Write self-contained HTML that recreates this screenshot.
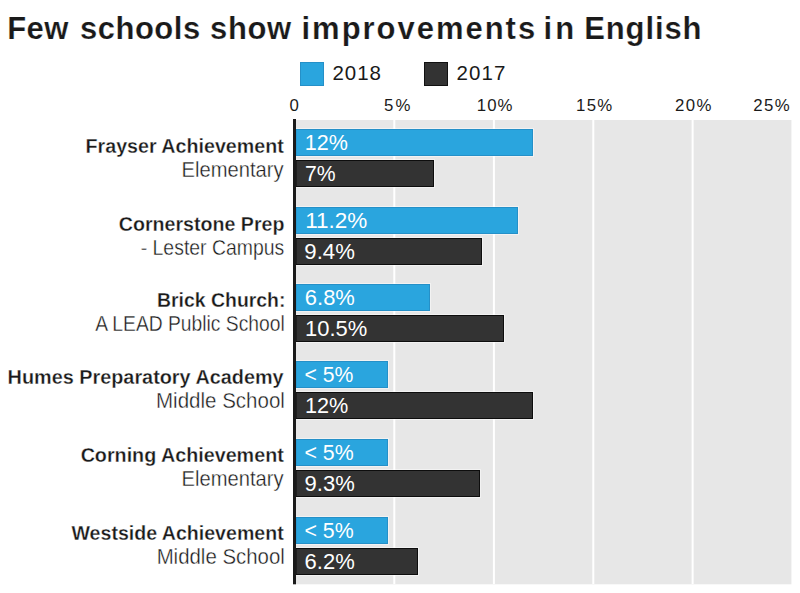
<!DOCTYPE html>
<html><head><meta charset="utf-8">
<style>
html,body{margin:0;padding:0;background:#fff;width:800px;height:593px;overflow:hidden}
svg{display:block}
text{font-family:"Liberation Sans",sans-serif;white-space:pre}
</style></head>
<body>
<svg width="800" height="593" viewBox="0 0 800 593">
<rect x="0" y="0" width="800" height="593" fill="#fff"/>
<!-- plot background -->
<rect x="295" y="120" width="496.4" height="464.3" fill="#e7e7e7"/>
<!-- gridlines -->
<rect x="393.3" y="120" width="2" height="464" fill="#fff"/>
<rect x="492.9" y="120" width="2" height="464" fill="#fff"/>
<rect x="592.3" y="120" width="2" height="464" fill="#fff"/>
<rect x="691.6" y="120" width="2" height="464" fill="#fff"/>
<!-- legend -->
<rect x="300.5" y="62.5" width="23" height="23" fill="#2aa5de" stroke="#2590c8" stroke-width="1"/>
<rect x="424.5" y="62.5" width="23" height="23" fill="#333" stroke="#111" stroke-width="1"/>
<rect x="295.5" y="128.5" width="238.0" height="28" fill="none" stroke="#fff" stroke-opacity="0.45" stroke-width="1"/>
<rect x="296" y="129.5" width="236.5" height="26" fill="#2aa5de" stroke="#2590c8" stroke-width="1"/>
<rect x="295.5" y="159.5" width="139.0" height="28" fill="none" stroke="#fff" stroke-opacity="0.45" stroke-width="1"/>
<rect x="296" y="160.5" width="137.5" height="26" fill="#333" stroke="#0d0d0d" stroke-width="1"/>
<rect x="295.5" y="206.5" width="223.0" height="28" fill="none" stroke="#fff" stroke-opacity="0.45" stroke-width="1"/>
<rect x="296" y="207.5" width="221.5" height="26" fill="#2aa5de" stroke="#2590c8" stroke-width="1"/>
<rect x="295.5" y="237.5" width="187.0" height="28" fill="none" stroke="#fff" stroke-opacity="0.45" stroke-width="1"/>
<rect x="296" y="238.5" width="185.5" height="26" fill="#333" stroke="#0d0d0d" stroke-width="1"/>
<rect x="295.5" y="283.5" width="135.0" height="28" fill="none" stroke="#fff" stroke-opacity="0.45" stroke-width="1"/>
<rect x="296" y="284.5" width="133.5" height="26" fill="#2aa5de" stroke="#2590c8" stroke-width="1"/>
<rect x="295.5" y="314.5" width="209.0" height="28" fill="none" stroke="#fff" stroke-opacity="0.45" stroke-width="1"/>
<rect x="296" y="315.5" width="207.5" height="26" fill="#333" stroke="#0d0d0d" stroke-width="1"/>
<rect x="295.5" y="360.5" width="93.0" height="28" fill="none" stroke="#fff" stroke-opacity="0.45" stroke-width="1"/>
<rect x="296" y="361.5" width="91.5" height="26" fill="#2aa5de" stroke="#2590c8" stroke-width="1"/>
<rect x="295.5" y="391.5" width="238.0" height="28" fill="none" stroke="#fff" stroke-opacity="0.45" stroke-width="1"/>
<rect x="296" y="392.5" width="236.5" height="26" fill="#333" stroke="#0d0d0d" stroke-width="1"/>
<rect x="295.5" y="438.5" width="93.0" height="28" fill="none" stroke="#fff" stroke-opacity="0.45" stroke-width="1"/>
<rect x="296" y="439.5" width="91.5" height="26" fill="#2aa5de" stroke="#2590c8" stroke-width="1"/>
<rect x="295.5" y="469.5" width="185.0" height="28" fill="none" stroke="#fff" stroke-opacity="0.45" stroke-width="1"/>
<rect x="296" y="470.5" width="183.5" height="26" fill="#333" stroke="#0d0d0d" stroke-width="1"/>
<rect x="295.5" y="516.5" width="93.0" height="28" fill="none" stroke="#fff" stroke-opacity="0.45" stroke-width="1"/>
<rect x="296" y="517.5" width="91.5" height="26" fill="#2aa5de" stroke="#2590c8" stroke-width="1"/>
<rect x="295.5" y="547.5" width="123.0" height="28" fill="none" stroke="#fff" stroke-opacity="0.45" stroke-width="1"/>
<rect x="296" y="548.5" width="121.5" height="26" fill="#333" stroke="#0d0d0d" stroke-width="1"/>
<!-- axis -->
<rect x="293" y="119" width="3" height="465.3" fill="#1a1a1a"/>
<text x="7.20" y="38.80" font-weight="bold" font-size="31" fill="#1a1a1a" stroke="#fff" stroke-width="0.2" textLength="61.25" lengthAdjust="spacing">Few</text>
<text x="80.00" y="38.80" font-weight="bold" font-size="31" fill="#1a1a1a" stroke="#fff" stroke-width="0.2" textLength="120.16" lengthAdjust="spacing">schools</text>
<text x="210.00" y="38.80" font-weight="bold" font-size="31" fill="#1a1a1a" stroke="#fff" stroke-width="0.2" textLength="81.23" lengthAdjust="spacing">show</text>
<text x="301.50" y="38.80" font-weight="bold" font-size="31" fill="#1a1a1a" stroke="#fff" stroke-width="0.2" textLength="233.66" lengthAdjust="spacing">improvements</text>
<text x="543.50" y="38.80" font-weight="bold" font-size="31" fill="#1a1a1a" stroke="#fff" stroke-width="0.2" textLength="30.81" lengthAdjust="spacing">in</text>
<text x="584.25" y="38.80" font-weight="bold" font-size="31" fill="#1a1a1a" stroke="#fff" stroke-width="0.2" textLength="117.20" lengthAdjust="spacing">English</text>
<text x="332.40" y="80.20" font-weight="normal" font-size="20.5" fill="#1a1a1a" textLength="48.56" lengthAdjust="spacing">2018</text>
<text x="456.50" y="80.20" font-weight="normal" font-size="20.5" fill="#1a1a1a" textLength="48.96" lengthAdjust="spacing">2017</text>
<text x="289.40" y="111.40" font-weight="normal" font-size="16.8" fill="#1a1a1a" textLength="10.34" lengthAdjust="spacing">0</text>
<text x="383.95" y="111.40" font-weight="normal" font-size="16.8" fill="#1a1a1a" textLength="26.57" lengthAdjust="spacing">5%</text>
<text x="476.75" y="111.40" font-weight="normal" font-size="16.8" fill="#1a1a1a" textLength="35.69" lengthAdjust="spacing">10%</text>
<text x="575.95" y="111.40" font-weight="normal" font-size="16.8" fill="#1a1a1a" textLength="36.34" lengthAdjust="spacing">15%</text>
<text x="675.05" y="111.40" font-weight="normal" font-size="16.8" fill="#1a1a1a" textLength="36.49" lengthAdjust="spacing">20%</text>
<text x="753.25" y="111.40" font-weight="normal" font-size="16.8" fill="#1a1a1a" textLength="36.34" lengthAdjust="spacing">25%</text>
<text x="85.57" y="153.00" font-weight="bold" font-size="20.6" fill="#1a1a1a" stroke="#fff" stroke-width="0.3" textLength="198.25" lengthAdjust="spacingAndGlyphs">Frayser Achievement</text>
<text x="118.79" y="231.00" font-weight="bold" font-size="20.6" fill="#1a1a1a" stroke="#fff" stroke-width="0.3" textLength="165.62" lengthAdjust="spacingAndGlyphs">Cornerstone Prep</text>
<text x="157.03" y="307.00" font-weight="bold" font-size="20.6" fill="#1a1a1a" stroke="#fff" stroke-width="0.3" textLength="128.44" lengthAdjust="spacingAndGlyphs">Brick Church:</text>
<text x="7.61" y="384.00" font-weight="bold" font-size="20.6" fill="#1a1a1a" stroke="#fff" stroke-width="0.3" textLength="275.99" lengthAdjust="spacingAndGlyphs">Humes Preparatory Academy</text>
<text x="80.63" y="462.00" font-weight="bold" font-size="20.6" fill="#1a1a1a" stroke="#fff" stroke-width="0.3" textLength="203.13" lengthAdjust="spacingAndGlyphs">Corning Achievement</text>
<text x="71.50" y="540.00" font-weight="bold" font-size="20.6" fill="#1a1a1a" stroke="#fff" stroke-width="0.3" textLength="212.18" lengthAdjust="spacingAndGlyphs">Westside Achievement</text>
<text x="181.56" y="177.00" font-weight="normal" font-size="21.5" fill="#1a1a1a" stroke="#fff" stroke-width="0.35" textLength="102.08" lengthAdjust="spacingAndGlyphs">Elementary</text>
<text x="140.70" y="255.00" font-weight="normal" font-size="21.5" fill="#1a1a1a" stroke="#fff" stroke-width="0.35" textLength="143.61" lengthAdjust="spacingAndGlyphs">- Lester Campus</text>
<text x="95.20" y="331.00" font-weight="normal" font-size="21.5" fill="#1a1a1a" stroke="#fff" stroke-width="0.35" textLength="189.59" lengthAdjust="spacingAndGlyphs">A LEAD Public School</text>
<text x="156.03" y="408.00" font-weight="normal" font-size="21.5" fill="#1a1a1a" stroke="#fff" stroke-width="0.35" textLength="128.85" lengthAdjust="spacingAndGlyphs">Middle School</text>
<text x="181.56" y="486.00" font-weight="normal" font-size="21.5" fill="#1a1a1a" stroke="#fff" stroke-width="0.35" textLength="102.08" lengthAdjust="spacingAndGlyphs">Elementary</text>
<text x="156.64" y="564.00" font-weight="normal" font-size="21.5" fill="#1a1a1a" stroke="#fff" stroke-width="0.35" textLength="128.18" lengthAdjust="spacingAndGlyphs">Middle School</text>
<text x="304.74" y="150.00" font-weight="normal" font-size="21.4" fill="#ffffff" textLength="43.09" lengthAdjust="spacingAndGlyphs">12%</text>
<text x="305.20" y="228.00" font-weight="normal" font-size="21.4" fill="#ffffff" textLength="62.12" lengthAdjust="spacingAndGlyphs">11.2%</text>
<text x="304.88" y="305.00" font-weight="normal" font-size="21.4" fill="#ffffff" textLength="49.96" lengthAdjust="spacingAndGlyphs">6.8%</text>
<text x="304.51" y="382.00" font-weight="normal" font-size="21.4" fill="#ffffff" textLength="48.90" lengthAdjust="spacingAndGlyphs">&lt; 5%</text>
<text x="304.40" y="460.00" font-weight="normal" font-size="21.4" fill="#ffffff" textLength="49.21" lengthAdjust="spacingAndGlyphs">&lt; 5%</text>
<text x="304.40" y="538.00" font-weight="normal" font-size="21.4" fill="#ffffff" textLength="49.21" lengthAdjust="spacingAndGlyphs">&lt; 5%</text>
<text x="305.01" y="181.00" font-weight="normal" font-size="21.4" fill="#ffffff" textLength="30.66" lengthAdjust="spacingAndGlyphs">7%</text>
<text x="304.37" y="259.00" font-weight="normal" font-size="21.4" fill="#ffffff" textLength="50.48" lengthAdjust="spacingAndGlyphs">9.4%</text>
<text x="305.05" y="336.00" font-weight="normal" font-size="21.4" fill="#ffffff" textLength="62.17" lengthAdjust="spacingAndGlyphs">10.5%</text>
<text x="304.97" y="413.00" font-weight="normal" font-size="21.4" fill="#ffffff" textLength="43.38" lengthAdjust="spacingAndGlyphs">12%</text>
<text x="304.57" y="491.00" font-weight="normal" font-size="21.4" fill="#ffffff" textLength="50.17" lengthAdjust="spacingAndGlyphs">9.3%</text>
<text x="304.57" y="569.00" font-weight="normal" font-size="21.4" fill="#ffffff" textLength="50.17" lengthAdjust="spacingAndGlyphs">6.2%</text>
</svg>
</body></html>
